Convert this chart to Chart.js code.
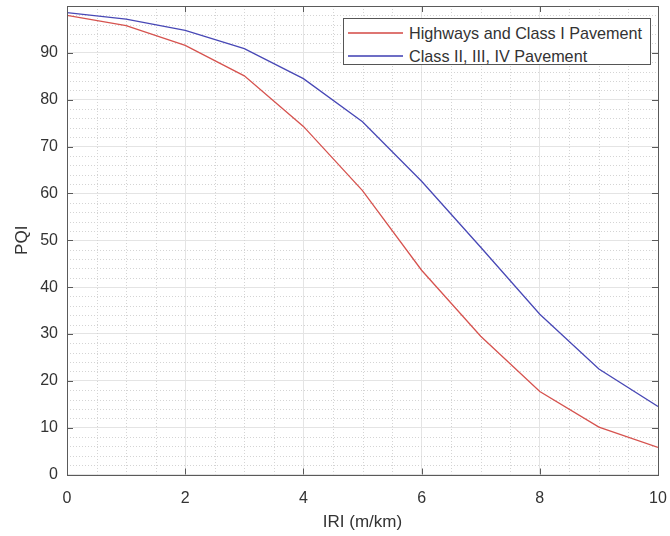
<!DOCTYPE html>
<html>
<head>
<meta charset="utf-8">
<script src="https://cdn.jsdelivr.net/npm/chart.js@4.4.1/dist/chart.umd.min.js"></script>
<style>
    body { margin: 0; background: #fff; }
    #wrap { position: relative; width: 670px; height: 536px; }
    #legend {
        position: absolute; left: 343px; top: 18px; width: 306px; height: 45px;
        border: 1px solid #555; background: #fff;
        font-family: "Liberation Sans", Arial, sans-serif; font-size: 16.2px; color: #333;
        box-sizing: content-box;
    }
    #legend .row { display: flex; align-items: center; height: 20px; margin-top: 3px; }
    #legend .row:first-child { margin-top: 4px; }
    #legend .swatch { width: 55px; height: 0; border-top: 2px solid; margin: 0 6px 0 4px; opacity: 0.8; }
</style>
</head>
<body>
<div id="wrap">
    <canvas id="pqiChart" width="670" height="536"></canvas>
    <div id="legend"></div>
</div>
<script>
// Dữ liệu
const iriValues = [0, 1, 2, 3, 4, 5, 6, 7, 8, 9, 10];
const highwaysPqi = [98.0, 95.8, 91.6, 85.1, 74.3, 60.6, 43.6, 29.5, 17.7, 10.1, 5.8];
const classPqi = [98.6, 97.2, 94.8, 90.9, 84.5, 75.3, 62.6, 48.5, 34.2, 22.5, 14.5];
const seriesNames = ['Highways and Class I Pavement', 'Class II, III, IV Pavement'];
const seriesColors = ['#d6534f', '#4848b6'];
const xTickValues = [0, 2, 4, 6, 8, 10];
const yTickValues = [0, 10, 20, 30, 40, 50, 60, 70, 80, 90];

const toPoints = (ys) => ys.map((y, i) => ({ x: iriValues[i], y: y }));

// Lưới phụ (chấm), khung và vạch chia hướng vào trong
const matlabAxes = {
    id: 'matlabAxes',
    beforeDatasetsDraw(chart) {
        const { ctx, chartArea: a, scales: { x, y } } = chart;
        ctx.save();
        ctx.strokeStyle = '#d4d4d4';
        ctx.lineWidth = 1;
        ctx.setLineDash([1, 2]);
        for (let v = 0.5; v < 10; v += 0.5) {
            if (v % 2 === 0) continue;
            const px = Math.round(x.getPixelForValue(v)) + 0.5;
            ctx.beginPath(); ctx.moveTo(px, a.top); ctx.lineTo(px, a.bottom); ctx.stroke();
        }
        for (let v = 2; v < 100; v += 2) {
            if (v % 10 === 0) continue;
            const py = Math.round(y.getPixelForValue(v)) + 0.5;
            ctx.beginPath(); ctx.moveTo(a.left, py); ctx.lineTo(a.right, py); ctx.stroke();
        }
        ctx.restore();
    },
    afterDatasetsDraw(chart) {
        const { ctx, chartArea: a, scales: { x, y } } = chart;
        ctx.save();
        ctx.strokeStyle = '#5a5a5a';
        ctx.lineWidth = 1;
        const t = 6;
        xTickValues.forEach(v => {
            const px = Math.round(x.getPixelForValue(v)) + 0.5;
            ctx.beginPath();
            ctx.moveTo(px, a.bottom); ctx.lineTo(px, a.bottom - t);
            ctx.moveTo(px, a.top); ctx.lineTo(px, a.top + t);
            ctx.stroke();
        });
        yTickValues.forEach(v => {
            const py = Math.round(y.getPixelForValue(v)) + 0.5;
            ctx.beginPath();
            ctx.moveTo(a.left, py); ctx.lineTo(a.left + t, py);
            ctx.moveTo(a.right, py); ctx.lineTo(a.right - t, py);
            ctx.stroke();
        });
        ctx.strokeRect(Math.round(a.left) + 0.5, Math.round(a.top) + 0.5,
            Math.round(a.right - a.left), Math.round(a.bottom - a.top));
        ctx.restore();
    }
};

const ctx = document.getElementById('pqiChart').getContext('2d');
const pqiChart = new Chart(ctx, {
    type: 'line',
    data: {
        datasets: [
            { label: seriesNames[0], data: toPoints(highwaysPqi), borderColor: seriesColors[0], borderWidth: 1.3, pointRadius: 0, tension: 0 },
            { label: seriesNames[1], data: toPoints(classPqi), borderColor: seriesColors[1], borderWidth: 1.3, pointRadius: 0, tension: 0 }
        ]
    },
    options: {
        responsive: false,
        animation: false,
        layout: { padding: { top: 6, right: 12, left: 0, bottom: 0 } },
        plugins: { legend: { display: false }, tooltip: { enabled: false } },
        scales: {
            x: {
                type: 'linear', min: 0, max: 10,
                afterBuildTicks: (s) => { s.ticks = xTickValues.map(v => ({ value: v })); },
                afterFit: (s) => { s.height = 61.5; s.paddingLeft = 0; s.paddingRight = 0; },
                grid: { color: '#e4e4e4', drawTicks: false },
                border: { display: false },
                ticks: { padding: 14, color: '#333', font: { family: 'Liberation Sans', size: 16 }, maxRotation: 0 },
                title: { display: true, text: 'IRI (m/km)', color: '#333', font: { family: 'Liberation Sans', size: 17 }, padding: { top: 0, bottom: 3 } }
            },
            y: {
                min: 0, max: 100,
                afterBuildTicks: (s) => { s.ticks = yTickValues.map(v => ({ value: v })); },
                afterFit: (s) => { s.width = 67; s.paddingTop = 0; s.paddingBottom = 0; },
                grid: { color: '#e4e4e4', drawTicks: false },
                border: { display: false },
                ticks: { padding: 9, color: '#333', font: { family: 'Liberation Sans', size: 16 } },
                title: { display: true, text: 'PQI', color: '#333', font: { family: 'Liberation Sans', size: 17 }, padding: { top: 12, bottom: 0 } }
            }
        }
    },
    plugins: [matlabAxes]
});

// Chú giải
document.getElementById('legend').innerHTML = pqiChart.data.datasets.map(ds => `
    <div class="row"><span class="swatch" style="border-color:${ds.borderColor}"></span><span>${ds.label}</span></div>
`).join('');
</script>
</body>
</html>
